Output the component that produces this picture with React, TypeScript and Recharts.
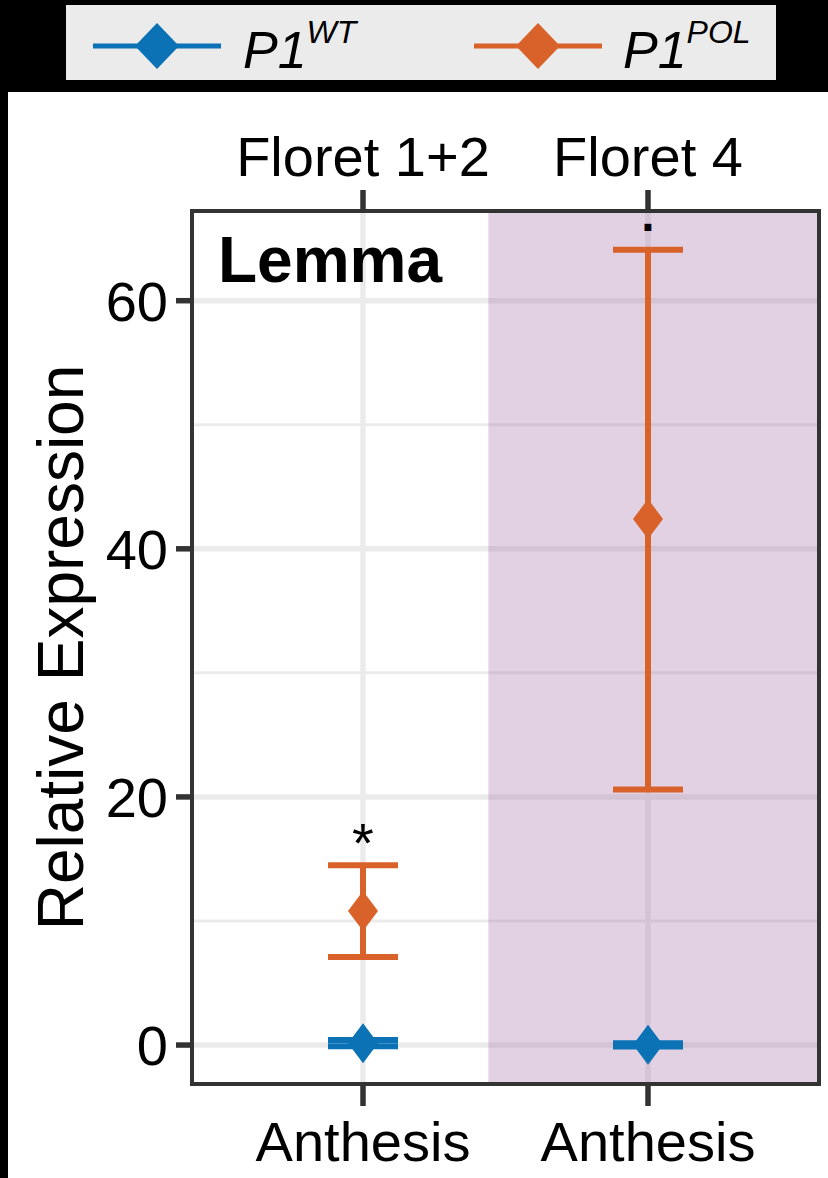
import React from "react";
import {
  ComposedChart,
  Scatter,
  ErrorBar,
  XAxis,
  YAxis,
  CartesianGrid,
  ReferenceArea,
  Legend,
} from "recharts";

// categories
const positions = [1, 2];
const stageLabels = ["Floret 1+2", "Floret 4"];
const timeLabels = ["Anthesis", "Anthesis"];

// P1 WT (blue)
const wtMean = [0.15, 0.02];
const wtLow = [-0.1, -0.12];
const wtHigh = [0.4, 0.15];

// P1 POL (orange)
const polMean = [10.8, 42.4];
const polLow = [7.1, 20.6];
const polHigh = [14.5, 64.1];

// significance marks
const sigLabels = ["*", "."];
const sigY = [17.3, 65.9];

const yTicks = [0, 20, 40, 60];
const yMinorTicks = [10, 30, 50];
const yDomain = [-3.14, 67.23];
const xDomain = [0.4, 2.6];
const shadeStart = 1.44;

const legendNames = ["WT", "POL"];
const BLUE = "#0b72b5";
const ORANGE = "#d8622a";
const FONT = '"Liberation Sans", Arial, Helvetica, sans-serif';

const toPoints = (mean: number[], low: number[], high: number[]) =>
  positions.map((x, i) => ({
    x,
    y: mean[i],
    err: [mean[i] - low[i], high[i] - mean[i]],
  }));

const wtData = toPoints(wtMean, wtLow, wtHigh);
const polData = toPoints(polMean, polLow, polHigh);
const sigData = positions.map((x, i) => ({ x, y: sigY[i], label: sigLabels[i] }));

const diamond = (color: string) => (props: any) => {
  const { cx, cy } = props;
  if (cx == null || cy == null) return <g />;
  return (
    <polygon
      points={`${cx},${cy - 20} ${cx + 15},${cy} ${cx},${cy + 20} ${cx - 15},${cy}`}
      fill={color}
    />
  );
};

const sigMark = (props: any) => {
  const { cx, cy, payload } = props;
  if (cx == null || cy == null) return <g />;
  const isStar = payload.label === "*";
  return (
    <text
      x={cx}
      y={isStar ? cy + 32 : cy + 4}
      textAnchor="middle"
      fontSize={isStar ? 56 : 48}
      fontWeight="bold"
      fill="#000"
      style={{ fontWeight: isStar ? "normal" : "bold" }}
    >
      {payload.label}
    </text>
  );
};

const renderYTitle = (props: any) => {
  const vb = props.viewBox || { y: 211, height: 873 };
  const cy = vb.y + vb.height / 2;
  return (
    <text
      x={83}
      y={cy}
      transform={`rotate(-90, 83, ${cy})`}
      textAnchor="middle"
      fontSize={64}
      fill="#000"
    >
      Relative Expression
    </text>
  );
};

const renderLegend = () => {
  const colors = [BLUE, ORANGE];
  const keyLeft = [27, 408];
  const textLeft = [177, 557];
  return (
    <svg width={710} height={75} style={{ display: "block" }}>
      <rect x={0} y={0} width={710} height={75} fill="#ebebeb" />
      {legendNames.map((n, i) => (
        <g key={n}>
          <line
            x1={keyLeft[i]}
            x2={keyLeft[i] + 128}
            y1={41}
            y2={41}
            stroke={colors[i]}
            strokeWidth={5}
          />
          <polygon
            points={`${keyLeft[i] + 64},${18} ${keyLeft[i] + 86},${41} ${keyLeft[i] + 64},${64} ${keyLeft[i] + 42},${41}`}
            fill={colors[i]}
          />
          <text x={textLeft[i]} y={63} fontSize={52} fontStyle="italic" fill="#000" fontFamily={FONT}>
            P1
            <tspan dy={-25} fontSize={32}>
              {n}
            </tspan>
          </text>
        </g>
      ))}
    </svg>
  );
};

export default function App() {
  return (
    <div
      style={{
        position: "absolute",
        left: 0,
        top: 0,
        width: 828,
        height: 1178,
        background: "#000",
        fontFamily: FONT,
      }}
    >
      <div
        style={{
          position: "absolute",
          left: 8,
          top: 92,
          width: 820,
          height: 1086,
          background: "#fff",
        }}
      />
      <div style={{ position: "absolute", left: 0, top: 0 }}>
        <ComposedChart
          width={828}
          height={1178}
          margin={{ top: 0, right: 9, bottom: 0, left: 0 }}
        >
          <CartesianGrid
            horizontalValues={yMinorTicks}
            vertical={false}
            stroke="#ebebeb"
            strokeWidth={3}
          />
          <CartesianGrid
            horizontalValues={yTicks}
            verticalValues={positions}
            stroke="#ebebeb"
            strokeWidth={5.5}
          />
          <XAxis
            dataKey="x"
            type="number"
            domain={xDomain}
            ticks={positions}
            interval={0}
            allowDataOverflow
            height={94}
            tickSize={22}
            tickMargin={15}
            axisLine={false}
            tickLine={{ stroke: "#333", strokeWidth: 5.5 }}
            tick={{ fontSize: 56, fill: "#000" }}
            tickFormatter={(v: number) => timeLabels[positions.indexOf(v)] ?? ""}
          />
          <XAxis
            xAxisId="top"
            orientation="top"
            dataKey="x"
            type="number"
            domain={xDomain}
            ticks={positions}
            interval={0}
            allowDataOverflow
            height={211}
            tickSize={21}
            tickMargin={14}
            axisLine={false}
            tickLine={{ stroke: "#333", strokeWidth: 5.5 }}
            tick={{ fontSize: 56, fill: "#000" }}
            tickFormatter={(v: number) => stageLabels[positions.indexOf(v)] ?? ""}
          />
          <YAxis
            dataKey="y"
            type="number"
            domain={yDomain}
            ticks={yTicks}
            interval={0}
            allowDataOverflow
            width={192}
            tickSize={16}
            tickMargin={8}
            axisLine={false}
            tickLine={{ stroke: "#333", strokeWidth: 5.5 }}
            tick={{ fontSize: 56, fill: "#000" }}
            label={renderYTitle}
          />
          <ReferenceArea
            x1={shadeStart}
            x2={xDomain[1]}
            y1={yDomain[0]}
            y2={yDomain[1]}
            fill="#9e669e"
            fillOpacity={0.3}
            stroke="none"
          />
          <Scatter data={wtData} shape={diamond(BLUE)} isAnimationActive={false}>
            <ErrorBar dataKey="err" direction="y" width={35} stroke={BLUE} strokeWidth={6} />
          </Scatter>
          <Scatter data={polData} shape={diamond(ORANGE)} isAnimationActive={false}>
            <ErrorBar dataKey="err" direction="y" width={35} stroke={ORANGE} strokeWidth={6} />
          </Scatter>
          <Scatter
            data={sigData}
            xAxisId="top"
            shape={sigMark}
            isAnimationActive={false}
          />
          <ReferenceArea
            x1={xDomain[0]}
            x2={xDomain[1]}
            y1={yDomain[0]}
            y2={yDomain[1]}
            fill="none"
            stroke="#333"
            strokeWidth={4}
            label={{
              value: "Lemma",
              position: "insideTopLeft",
              offset: 26,
              fontSize: 64,
              fontWeight: "bold",
              fill: "#000",
            }}
          />
          <Legend
            layout="horizontal"
            verticalAlign="middle"
            align="center"
            content={renderLegend}
            wrapperStyle={{ left: 66, top: 5, width: 710, height: 75 }}
          />
        </ComposedChart>
      </div>
    </div>
  );
}
